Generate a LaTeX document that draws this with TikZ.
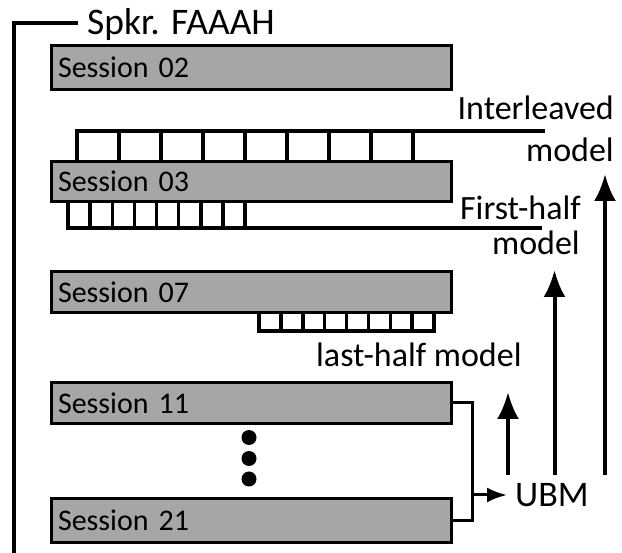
\documentclass[tikz,border=0pt]{standalone}
\usepackage{fontspec}
\setmainfont{Carlito}
\usetikzlibrary{arrows.meta}
\definecolor{sessgray}{HTML}{A6A6A6}
\begin{document}
\begin{tikzpicture}[x=1pt,y=-1pt,
  sess/.style={draw=black, line width=3pt, fill=sessgray, minimum width=400pt,
    minimum height=#1, text width=387pt, inner xsep=6.5pt, inner ysep=0pt,
    align=left, anchor=north west, font=\fontsize{30}{36}\selectfont},
  lbl/.style={inner sep=0pt, font=\fontsize{34}{40}\selectfont},
  comb/.style={line width=3.5pt, line join=miter},
  wire/.style={line width=3pt},
  uparrow/.style={line width=4pt, -{Latex[length=27pt,width=22pt]}},
  dot/.style={circle, fill=black, minimum size=15pt, inner sep=0pt}]
\useasboundingbox (0,0) rectangle (622,553);

% speaker bracket and title
\node[lbl, anchor=base west, font=\fontsize{37.5}{44}\selectfont] (spk) at (87,35) {Spkr. FAAAH};
\coordinate (corner) at (13.5,23.5);
\coordinate (foot) at (13.5,556);
\coordinate (spkend) at (78,23.5);
\draw[line width=4pt, line join=miter] (foot) -- (corner) -- (spkend);

% sessions
\node[sess=44pt] (s02) at (50,44) {Session 02};
\node[sess=40pt] (s03) at (50,160) {Session 03};
\node[sess=41pt] (s07) at (50,270) {Session 07};
\node[sess=41pt] (s11) at (50,381) {Session 11};
\node[sess=44pt] (s21) at (50,497) {Session 21};

% interleaved segments above Session 03
\draw[comb] (545,131) -- (77,131) -- (77,160);
\foreach \k in {1,...,8} \draw[comb] (77+42*\k,131) -- (77+42*\k,160);

% first-half segments below Session 03
\draw[comb] (542,228) -- (68,228) -- (68,200);
\foreach \k in {1,...,8} \draw[comb] (68+22.125*\k,228) -- (68+22.125*\k,200);

% last-half segments below Session 07
\draw[comb] (259,311) -- (259,331) -- (434,331) -- (434,311);
\foreach \k in {1,...,7} \draw[comb] (259+21.875*\k,331) -- (259+21.875*\k,311);

% vertical ellipsis
\node[dot] (d1) at (249,437.5) {};
\node[dot] (d2) at (249,458.5) {};
\node[dot] (d3) at (249,479) {};

% model labels
\node[lbl, anchor=base east] (il1) at (614,120) {Interleaved};
\node[lbl, anchor=base east] (il2) at (614,162) {model};
\node[lbl, anchor=base east] (fh1) at (581,220) {First-half};
\node[lbl, anchor=base east] (fh2) at (580,255) {model};
\node[lbl, anchor=base west] (lh) at (316,367) {last-half model};
\node[lbl, anchor=base west, font=\fontsize{36}{42}\selectfont] (ubm) at (515,507) {UBM};

% sessions pooled into the UBM
\coordinate (join) at (472,495);
\coordinate (ubmin) at (507,495);
\draw[wire] (s11.east) -| (join |- s21.east) -- (s21.east);
\draw[line width=3pt, -{Latex[length=20pt,width=15pt]}] (join) -- (ubmin);

% adaptation arrows from the UBM
\coordinate (aL) at (508,475);
\coordinate (tL) at (508,392);
\coordinate (aF) at (554.5,475);
\coordinate (tF) at (554.5,270);
\coordinate (aI) at (605,475);
\coordinate (tI) at (605,174);
\draw[uparrow] (aL) -- (tL);
\draw[uparrow] (aF) -- (tF);
\draw[uparrow] (aI) -- (tI);
\end{tikzpicture}
\end{document}
